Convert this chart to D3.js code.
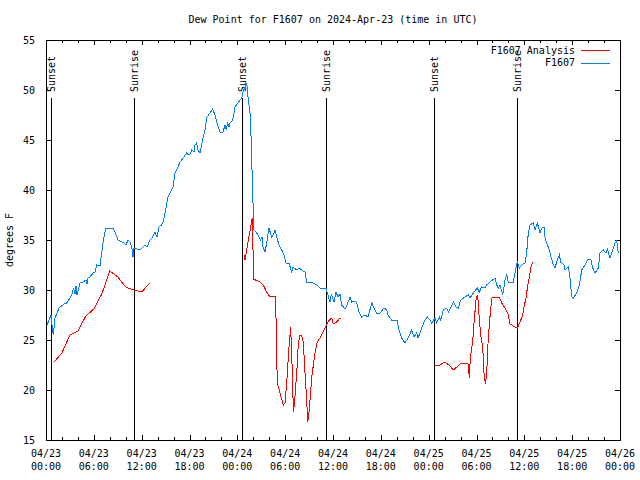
<!DOCTYPE html>
<html><head><meta charset="utf-8">
<script src="https://cdn.jsdelivr.net/npm/d3@7/dist/d3.min.js"></script>
<style>
body{margin:0;background:#fff}
svg text{font-family:"DejaVu Sans Mono","Liberation Mono",monospace;font-size:10px;fill:#000}
</style>
</head><body>
<svg id="chart" width="640" height="480"></svg>
<script>
// ---- data (hours since 2024-04-23 00:00 UTC) ----
const titleText = "Dew Point for F1607 on 2024-Apr-23 (time in UTC)";
const yLabelText = "degrees F";
const seriesNames = ["F1607 Analysis", "F1607"];
const yTicks = [15, 20, 25, 30, 35, 40, 45, 50, 55];

const obsHours = [0.13,0.38,0.63,0.75,0.92,1.13,1.38,1.63,1.97,2.26,2.60,3.01,3.26,3.45,3.64,3.76,3.89,4.14,4.27,4.64,5.02,5.14,5.27,5.52,5.90,6.15,6.36,6.77,6.99,7.15,7.49,8.37,8.66,9.03,9.50,9.78,10.04,10.29,10.54,10.75,10.91,11.04,11.42,11.79,12.17,12.42,12.67,13.05,13.30,13.67,13.92,14.17,14.51,14.68,14.93,15.12,15.30,15.55,15.77,15.93,16.18,16.56,16.81,17.19,17.65,17.81,18.06,18.28,18.57,18.69,18.90,19.07,19.32,19.51,19.69,19.94,20.20,20.57,20.91,21.20,21.45,21.83,22.17,22.45,22.64,22.77,22.96,23.08,23.42,23.71,24.08,24.34,24.55,24.71,24.96,25.09,25.21,25.34,25.59,25.72,25.84,25.93,26.00,26.09,26.43,26.72,26.93,27.09,27.22,27.47,27.68,27.97,28.31,28.54,28.73,28.98,29.23,29.57,29.85,30.11,30.48,30.82,30.98,31.45,31.74,32.07,32.49,32.70,33.12,33.49,33.96,34.37,35.12,35.37,35.62,35.81,36.13,36.38,36.63,36.88,37.09,37.51,37.76,38.13,38.35,38.76,38.97,39.26,39.60,40.01,40.39,40.86,41.27,41.48,41.90,42.11,42.40,42.74,42.90,43.36,44.03,44.28,44.62,45.03,45.41,45.87,46.16,46.50,46.66,46.91,47.13,47.54,47.83,48.17,48.38,48.80,49.01,49.34,49.51,49.84,50.26,50.46,50.89,51.09,51.43,51.72,52.02,52.56,52.97,53.19,53.60,54.10,54.35,54.65,55.07,55.28,55.69,56.32,56.53,56.74,56.95,57.29,57.58,57.79,57.99,58.62,58.83,59.12,59.37,59.67,60.09,60.30,60.50,60.71,61.13,61.34,61.63,61.97,62.18,62.47,62.59,62.81,63.13,63.22,63.64,63.85,64.14,64.39,64.56,64.98,65.10,65.52,65.73,65.94,66.14,66.57,66.90,67.20,67.61,67.90,68.33,68.58,68.87,69.28,69.49,69.91,70.25,70.41,70.75,70.96,71.37,71.59,71.79];
const obsValues = [26.5,27.0,27.5,26.5,25.5,27.2,27.7,28.2,28.4,28.6,28.7,29.2,29.6,30.2,29.6,30.4,29.5,30.3,30.7,30.8,31.0,30.6,31.2,31.3,31.7,31.8,32.5,32.4,33.7,34.7,36.2,36.2,35.8,35.0,34.8,34.7,34.5,35.0,34.8,34.3,33.3,34.2,34.1,34.0,34.3,34.5,34.3,35.0,35.2,35.8,35.3,36.3,36.5,36.8,37.7,38.5,39.3,39.7,40.0,40.3,41.7,42.3,42.8,43.2,43.7,43.5,43.6,44.0,43.8,44.5,44.7,44.0,43.7,44.5,45.2,46.0,47.3,47.7,48.1,47.5,46.7,45.8,45.7,46.5,46.0,46.8,46.3,46.7,47.0,48.3,48.7,49.0,49.2,49.8,50.3,50.7,50.4,49.3,47.7,45.3,42.0,40.0,37.5,36.0,35.7,35.3,35.0,35.3,34.3,33.8,34.7,36.2,35.3,35.6,36.0,35.2,34.5,34.0,33.5,32.7,32.7,31.8,32.3,32.0,32.2,32.0,31.8,30.8,30.8,30.7,30.5,30.2,30.2,29.5,28.8,29.6,28.8,29.8,29.3,29.6,28.5,28.1,28.5,29.3,28.8,28.9,28.7,27.8,27.3,27.5,27.3,28.7,28.0,27.7,27.7,27.9,28.2,28.0,27.5,27.0,27.0,26.0,25.2,24.7,25.2,26.0,25.3,25.7,25.2,25.7,26.2,27.0,27.3,27.0,26.7,27.2,26.7,27.3,27.0,28.0,28.2,27.8,28.4,28.8,28.3,28.2,29.0,29.3,29.5,29.2,29.7,30.2,29.8,30.3,30.2,30.5,30.8,31.2,30.5,30.2,30.5,29.5,31.0,31.5,30.8,30.8,31.7,32.8,32.2,32.5,32.7,33.8,35.7,36.5,36.7,36.0,36.7,35.7,36.2,36.3,35.3,34.7,34.0,33.7,32.5,32.2,33.0,33.5,32.8,32.5,32.0,32.3,31.2,29.3,29.2,29.7,30.5,32.0,32.5,33.0,33.1,32.2,31.7,32.2,33.7,34.0,33.7,34.1,33.2,33.7,34.7,34.9,33.7];

// null marks a gap in the analysis series
const anaHours = [1,2,3,4,5,6,7,8,9,10,11,12,13, 18,
  24.84,24.96,25.18,25.38,25.68,25.80,25.93,26.00,26.84,27.26,27.68,28.01,28.73,28.85,29.01,29.35,29.77,29.98,30.19,30.48,30.69,30.79,30.94,31.02,31.15,31.45,31.65,31.86,32.07,32.28,32.49,32.70,32.83,33.03,33.33,33.74,34.03,34.58,35.00,35.29,35.54,35.84,36.04,36.47,36.88,37.00, 42,
  48.80,49.42,50.05,50.68,51.09,51.52,52.02,52.56,52.97,53.10,53.19,53.31,53.52,53.69,53.94,54.10,54.23,54.35,54.57,54.78,54.94,55.11,55.28,55.48,55.69,55.91,56.32,56.86,57.16,57.58,57.99,58.20,58.62,59.12,59.46,59.80,59.96,60.21,60.38,60.63,60.84,61.05];
const anaValues = [22.8,23.7,25.5,25.9,27.4,28.1,29.6,31.9,31.3,30.3,30.0,29.8,30.7, null,
  33.5,33.0,34.0,35.0,36.3,37.0,37.2,31.1,30.8,30.5,29.8,29.4,29.4,27.3,20.7,19.7,18.5,18.7,20.7,24.3,26.3,24.0,21.0,17.8,18.5,21.7,24.7,25.5,25.5,24.7,21.7,19.0,16.8,18.0,21.3,23.7,24.8,25.5,26.2,26.7,27.0,27.2,26.6,26.8,27.2,27.2, null,
  22.4,22.5,22.8,22.4,22.0,22.3,22.7,22.7,22.6,21.2,22.7,23.7,24.8,26.7,29.0,29.5,28.8,27.0,25.3,24.3,21.7,20.6,21.7,25.3,27.3,29.2,29.3,29.3,28.7,28.2,27.5,26.6,26.4,26.2,26.8,27.5,28.3,29.2,30.2,31.3,32.3,32.8];

const sunEventHours = [0.63, 11.04, 24.59, 35.12, 48.67, 59.08];
const sunEventNames = ["Sunset","Sunrise","Sunset","Sunrise","Sunset","Sunrise"];

// ---- drawing ----
const svg = d3.select("#chart");
const L = 46, R = 620, T = 40, B = 440;
const t0 = Date.UTC(2024, 3, 23);
const toDate = h => new Date(t0 + h * 3600e3);

const x = d3.scaleUtc().domain([toDate(0), toDate(72)]).range([L, R]);
const y = d3.scaleLinear().domain([15, 55]).range([B, T]);

const crisp = "crispEdges";

// title
svg.append("text").attr("x", 333).attr("y", 23).attr("text-anchor", "middle").text(titleText);
// y label
svg.append("text").attr("transform", "translate(13,240) rotate(-90)").attr("text-anchor", "middle").text(yLabelText);

// axes
const majorTicks = d3.utcHour.every(6).range(toDate(0), toDate(72.01));
const minorTicks = d3.utcHour.every(2).range(toDate(0), toDate(72.01)).filter(d => d.getUTCHours() % 6 !== 0);

const gx = svg.append("g").attr("transform", `translate(0,${B})`)
  .call(d3.axisBottom(x).tickValues(majorTicks).tickSizeInner(-5).tickSizeOuter(0).tickFormat(""));
const gxm = svg.append("g").attr("transform", `translate(0,${B})`)
  .call(d3.axisBottom(x).tickValues(minorTicks).tickSizeInner(-3).tickSizeOuter(0).tickFormat(""));
const gxt = svg.append("g").attr("transform", `translate(0,${T})`)
  .call(d3.axisTop(x).tickValues(majorTicks).tickSizeInner(-5).tickSizeOuter(0).tickFormat(""));
const gxtm = svg.append("g").attr("transform", `translate(0,${T})`)
  .call(d3.axisTop(x).tickValues(minorTicks).tickSizeInner(-3).tickSizeOuter(0).tickFormat(""));
const gy = svg.append("g").attr("transform", `translate(${L},0)`)
  .call(d3.axisLeft(y).tickValues(yTicks).tickSizeInner(-5).tickSizeOuter(0).tickPadding(11).tickFormat(d3.format("d")));
const gyr = svg.append("g").attr("transform", `translate(${R},0)`)
  .call(d3.axisRight(y).tickValues(yTicks).tickSizeInner(-5).tickSizeOuter(0).tickFormat(""));
[gx, gxm, gxt, gxtm, gy, gyr].forEach(g => {
  g.select(".domain").remove();
  g.selectAll("line").attr("stroke", "#000").attr("shape-rendering", crisp);
  g.selectAll("text").attr("font-family", null).attr("font-size", null).attr("fill", "#000");
});
gy.selectAll("text").attr("dy", "0.35em");

// two-line x tick labels
const fDate = d3.utcFormat("%m/%d"), fTime = d3.utcFormat("%H:%M");
const xl = svg.append("g");
majorTicks.forEach(d => {
  const t = xl.append("text").attr("text-anchor", "middle").attr("x", x(d));
  t.append("tspan").attr("x", x(d)).attr("y", 457).text(fDate(d));
  t.append("tspan").attr("x", x(d)).attr("y", 470).text(fTime(d));
});

// border
svg.append("rect").attr("x", L).attr("y", T).attr("width", R - L).attr("height", B - T)
  .attr("fill", "none").attr("stroke", "#000").attr("shape-rendering", crisp);

// sunrise / sunset lines
sunEventHours.forEach((h, i) => {
  const xx = Math.round(x(toDate(h))) + 0.5;
  svg.append("line").attr("x1", xx).attr("x2", xx).attr("y1", 98).attr("y2", B)
    .attr("stroke", "#000").attr("shape-rendering", crisp);
  svg.append("text").attr("transform", `translate(${xx},92) rotate(-90)`)
    .attr("dy", "0.35em").attr("text-anchor", "start").text(sunEventNames[i]);
});

// series
const obs = obsHours.map((h, i) => ({ d: toDate(h), v: obsValues[i] }));
const ana = anaHours.map((h, i) => ({ d: toDate(h), v: anaValues[i] }));
const line = d3.line().defined(p => p.v !== null).x(p => x(p.d)).y(p => y(p.v));

svg.append("path").datum(ana).attr("d", line).attr("fill", "none").attr("stroke", "#ff0000")
  .attr("stroke-width", 1).attr("shape-rendering", crisp);
svg.append("path").datum(obs).attr("d", line).attr("fill", "none").attr("stroke", "#0080ff")
  .attr("stroke-width", 1).attr("shape-rendering", crisp);

// legend
const legColors = ["#ff0000", "#0080ff"];
seriesNames.forEach((n, i) => {
  const yy = 50 + i * 12.5;
  svg.append("text").attr("x", 575).attr("y", yy).attr("dy", "0.35em").attr("text-anchor", "end").text(n);
  svg.append("line").attr("x1", 581).attr("x2", 610).attr("y1", Math.round(yy) + 0.5).attr("y2", Math.round(yy) + 0.5)
    .attr("stroke", legColors[i]).attr("shape-rendering", crisp);
});
</script>
</body></html>
